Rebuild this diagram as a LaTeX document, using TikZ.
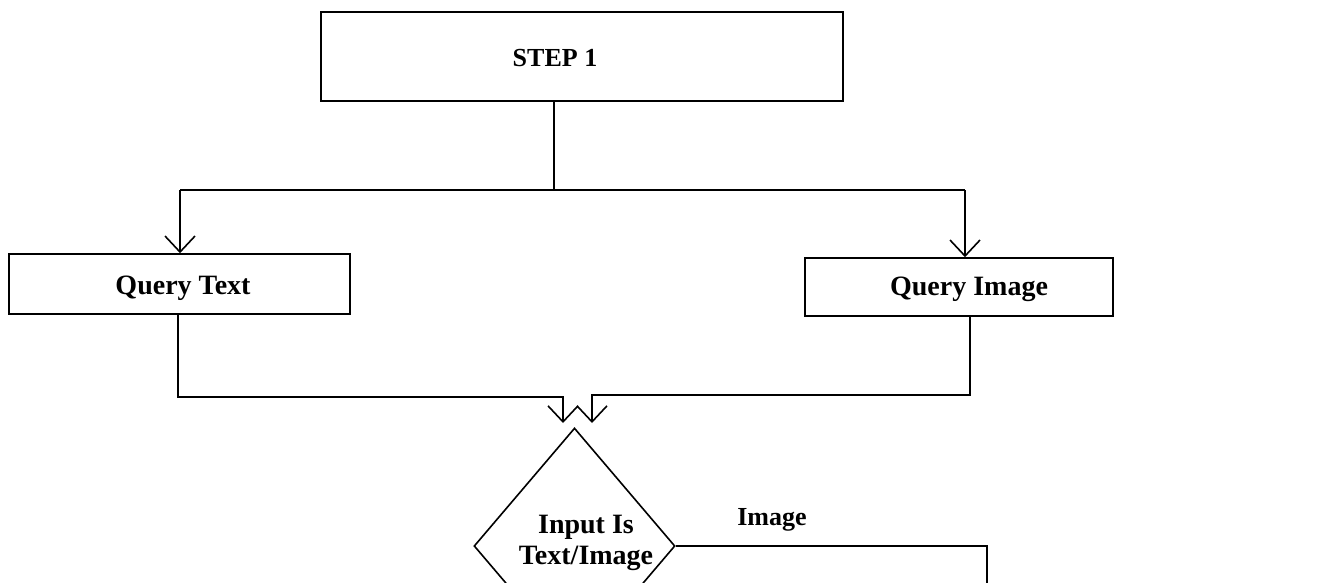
\documentclass[tikz,border=0pt]{standalone}
\usepackage{fontspec}
\setmainfont{Liberation Serif}
\usetikzlibrary{arrows.meta,shapes.geometric}

\begin{document}
\begin{tikzpicture}[x=1pt,y=-1pt,line width=1.6pt,
  box/.style={draw,rectangle,inner sep=0pt},
  lbl/.style={font=\fontsize{26}{31}\selectfont\bfseries,align=center,inner sep=0pt},
  biglbl/.style={lbl,font=\fontsize{28}{31}\selectfont\bfseries},
  arr/.style={-{Straight Barb[length=16pt,width=30pt,line width=1.6pt]}}]
\useasboundingbox (0,0) rectangle (1330,583);
\clip (0,0) rectangle (1330,583);
\node[box,minimum width=522pt,minimum height=89pt] (step1) at (582,56.5) {};
\node[lbl] (step1txt) at (555,58) {STEP 1};
\node[box,minimum width=341pt,minimum height=60pt] (qtext) at (179.5,284) {};
\node[biglbl] (qtexttxt) at (183,288) {Query Text};
\node[box,minimum width=308pt,minimum height=58pt] (qimage) at (959,287) {};
\node[biglbl] (qimagetxt) at (969,289) {Query Image};
\node[draw,diamond,minimum width=201pt,minimum height=236pt,inner sep=0pt] (decide) at (574.5,546) {};
\node[biglbl] (decidetxt) at (586,543) {Input Is\\Text/Image};
\node[lbl] (imglbl) at (772,520) {Image};
\coordinate (split) at (554,190);
\coordinate (forkL) at (180,190);
\coordinate (forkR) at (965,190);
\coordinate (outL) at (178,314);
\coordinate (outR) at (970,316);
\coordinate (joinL) at (563,397);
\coordinate (tipL) at (563,423);
\coordinate (joinR) at (592,395);
\coordinate (tipR) at (592,423);
\coordinate (bendImg) at (987,546);
\coordinate (outImg) at (987,600);
\draw (split |- step1.south) -- (split);
\draw (forkL) -- (forkR);
\draw[arr] (forkL) -- (forkL |- qtext.north);
\draw[arr] (forkR) -- (forkR |- qimage.north);
\draw[arr] (outL) |- (joinL) -- (tipL);
\draw[arr] (outR) |- (joinR) -- (tipR);
\draw (decide.east) -- (bendImg) -- (outImg);
\end{tikzpicture}
\end{document}
